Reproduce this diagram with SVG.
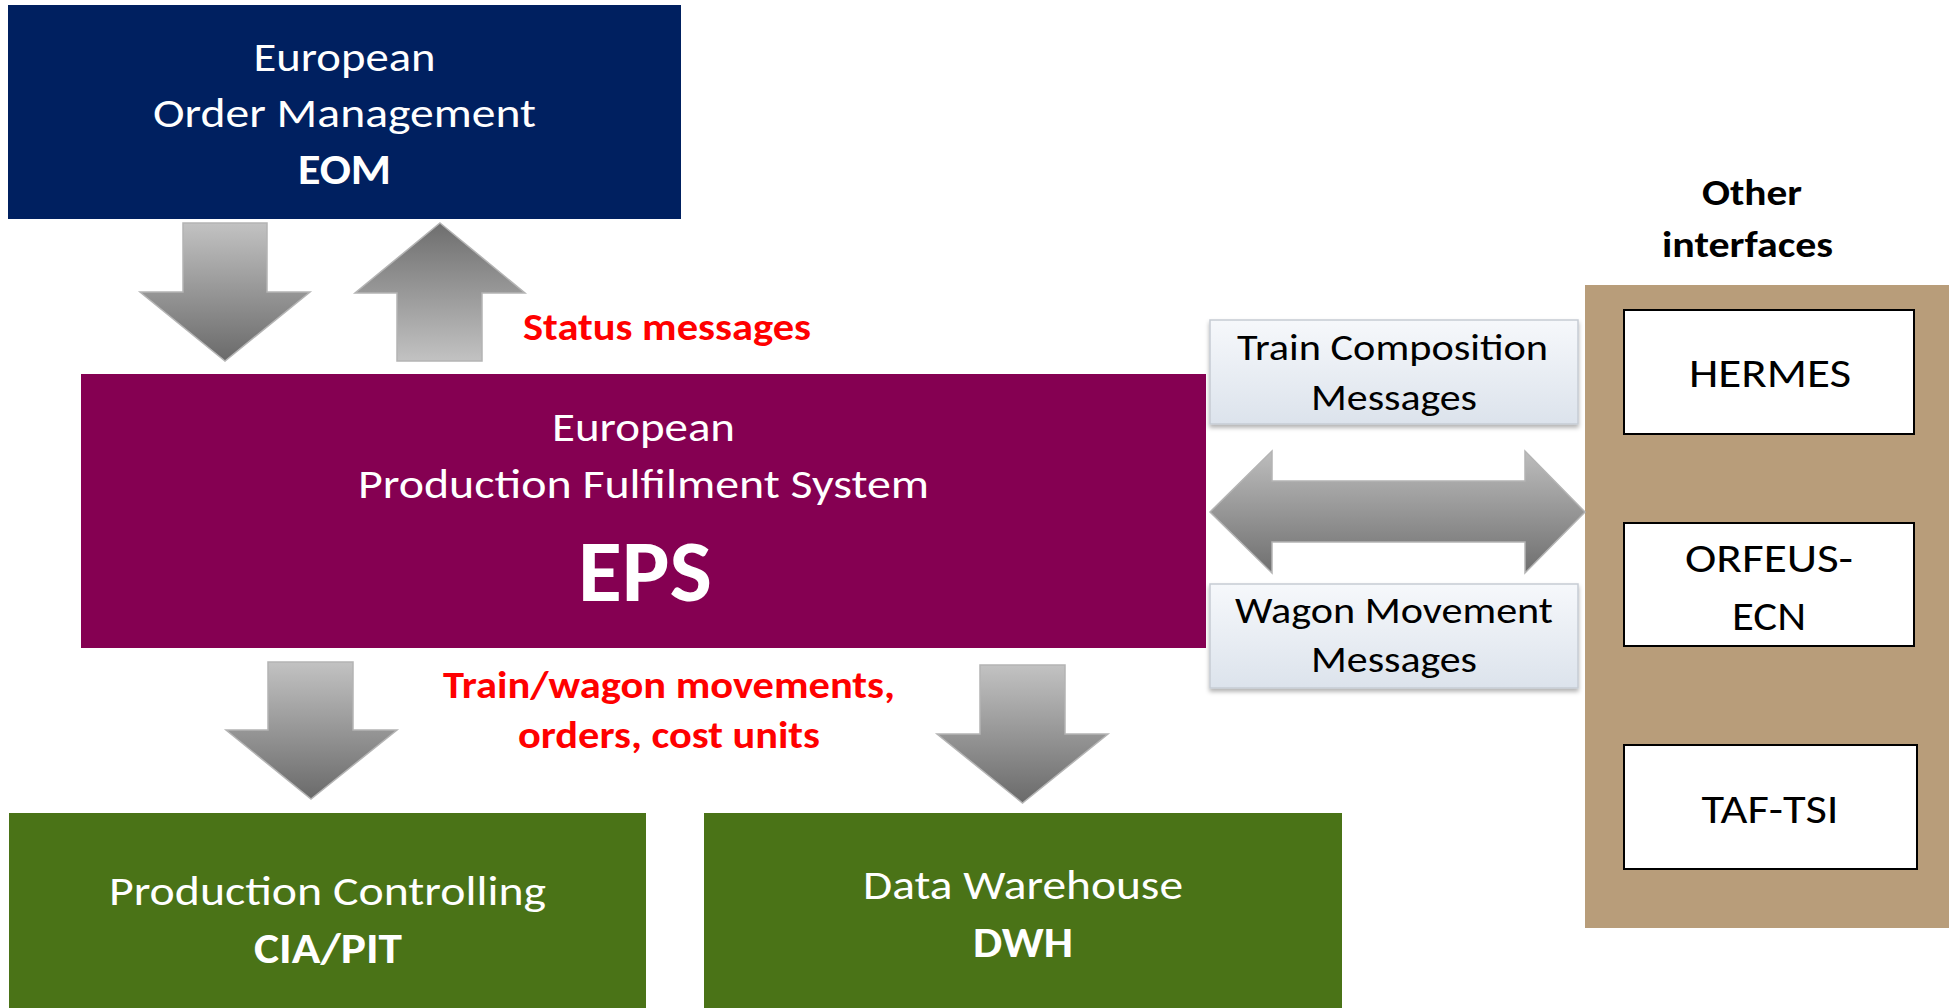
<svg xmlns="http://www.w3.org/2000/svg" width="1955" height="1008" viewBox="0 0 1955 1008">
  <style>
    text { font-family: Calibri, Carlito, Lato, "Open Sans", "Liberation Sans", sans-serif; text-anchor: middle; }
    .w { fill: #ffffff; }
    .k { fill: #000000; }
    .r { fill: #ff0000; font-weight: bold; }
    .b { font-weight: bold; }
    .f40 { font-size: 42px; }
    .f36 { font-size: 37px; }
    .f35 { font-size: 36px; }
    .f38 { font-size: 39px; }
    .arrow { stroke: #b4b4b4; stroke-width: 1.5; }
    .msg { fill: url(#msgGrad); stroke: #c6ccd4; stroke-width: 1.5; filter: url(#shadow); }
    .iface { fill: #ffffff; stroke: #000000; stroke-width: 2; }
  </style>
  <defs>
    <linearGradient id="gDown" x1="0" y1="0" x2="0" y2="1">
      <stop offset="0" stop-color="#c2c2c2"/>
      <stop offset="1" stop-color="#6a6a6a"/>
    </linearGradient>
    <linearGradient id="gUp" x1="0" y1="1" x2="0" y2="0">
      <stop offset="0" stop-color="#c2c2c2"/>
      <stop offset="1" stop-color="#6e6e6e"/>
    </linearGradient>
    <linearGradient id="gDouble" x1="0" y1="0" x2="0" y2="1">
      <stop offset="0" stop-color="#bdbdbd"/>
      <stop offset="1" stop-color="#6f6f6f"/>
    </linearGradient>
    <linearGradient id="msgGrad" x1="0" y1="0" x2="0" y2="1">
      <stop offset="0" stop-color="#f6f8fb"/>
      <stop offset="1" stop-color="#dce3ec"/>
    </linearGradient>
    <filter id="shadow" x="-5%" y="-10%" width="110%" height="130%">
      <feDropShadow dx="0" dy="3" stdDeviation="2" flood-color="#000000" flood-opacity="0.3"/>
    </filter>
  </defs>

  <rect x="0" y="0" width="1955" height="1008" fill="#ffffff"/>

  <g id="eom">
    <rect x="8" y="5" width="673" height="214" fill="#002060"/>
    <text class="w f40" x="344.5" y="71" textLength="182" lengthAdjust="spacingAndGlyphs">European</text>
    <text class="w f40" x="344.5" y="127" textLength="383" lengthAdjust="spacingAndGlyphs">Order Management</text>
    <text class="w f40 b" x="344.5" y="184" textLength="93" lengthAdjust="spacingAndGlyphs">EOM</text>
  </g>

  <g id="eps">
    <rect x="81" y="374" width="1125" height="274" fill="#850052"/>
    <text class="w f40" x="643.5" y="441" textLength="183" lengthAdjust="spacingAndGlyphs">European</text>
    <text class="w f40" x="643.5" y="498" textLength="571" lengthAdjust="spacingAndGlyphs">Production Fulfilment System</text>
    <text class="w b" style="font-size:87px" x="645" y="601" textLength="134" lengthAdjust="spacingAndGlyphs">EPS</text>
  </g>

  <g id="cia">
    <rect x="9" y="813" width="637" height="195" fill="#4a7317"/>
    <text class="w f40" x="327.5" y="905" textLength="437" lengthAdjust="spacingAndGlyphs">Production Controlling</text>
    <text class="w f40 b" x="328" y="963" textLength="148" lengthAdjust="spacingAndGlyphs">CIA/PIT</text>
  </g>

  <g id="dwh">
    <rect x="704" y="813" width="638" height="195" fill="#4a7317"/>
    <text class="w f40" x="1023" y="899" textLength="320" lengthAdjust="spacingAndGlyphs">Data Warehouse</text>
    <text class="w f40 b" x="1023" y="957" textLength="100" lengthAdjust="spacingAndGlyphs">DWH</text>
  </g>

  <g id="other-interfaces">
    <text class="k f36 b" x="1752" y="205" textLength="100" lengthAdjust="spacingAndGlyphs">Other</text>
    <text class="k f36 b" x="1747.5" y="257" textLength="171" lengthAdjust="spacingAndGlyphs">interfaces</text>
    <rect x="1585" y="285" width="364" height="643" fill="#b89d7a"/>
  </g>

  <g id="hermes">
    <rect class="iface" x="1624" y="310" width="290" height="124"/>
    <text class="k f40" x="1770" y="387" textLength="162" lengthAdjust="spacingAndGlyphs">HERMES</text>
  </g>

  <g id="orfeus">
    <rect class="iface" x="1624" y="523" width="290" height="123"/>
    <text class="k f40" x="1769" y="572" textLength="168" lengthAdjust="spacingAndGlyphs">ORFEUS-</text>
    <text class="k f40" x="1769" y="630" textLength="74" lengthAdjust="spacingAndGlyphs">ECN</text>
  </g>

  <g id="taftsi">
    <rect class="iface" x="1624" y="745" width="293" height="124"/>
    <text class="k f40" x="1770" y="823" textLength="137" lengthAdjust="spacingAndGlyphs">TAF-TSI</text>
  </g>

  <g id="train-composition">
    <rect class="msg" x="1210" y="320" width="368" height="104"/>
    <text class="k f35" x="1392.5" y="360" textLength="311" lengthAdjust="spacingAndGlyphs">Train Composition</text>
    <text class="k f35" x="1394" y="410" textLength="166" lengthAdjust="spacingAndGlyphs">Messages</text>
  </g>

  <g id="wagon-movement">
    <rect class="msg" x="1210" y="584" width="368" height="104"/>
    <text class="k f35" x="1394" y="623" textLength="318" lengthAdjust="spacingAndGlyphs">Wagon Movement</text>
    <text class="k f35" x="1394" y="672" textLength="166" lengthAdjust="spacingAndGlyphs">Messages</text>
  </g>

  <g id="connectors">
    <polygon class="arrow" fill="url(#gDown)" points="183,223 267,223 267,292 310,292 225,361 140,292 183,292"/>
    <polygon class="arrow" fill="url(#gUp)" points="440,223 525,293 482,293 482,361 397,361 397,293 355,293"/>
    <polygon class="arrow" fill="url(#gDown)" points="268,662 353,662 353,730 397,730 311,799 226,730 268,730"/>
    <polygon class="arrow" fill="url(#gDown)" points="980,665 1065,665 1065,734 1108,734 1022.5,803 937,734 980,734"/>
    <polygon class="arrow" fill="url(#gDouble)" points="1210,512 1272,451 1272,481 1525,481 1525,451 1585,512 1525,573 1525,542 1272,542 1272,573"/>
    <text class="r f38" x="667" y="340" textLength="288" lengthAdjust="spacingAndGlyphs">Status messages</text>
    <text class="r f38" x="669" y="698" textLength="452" lengthAdjust="spacingAndGlyphs">Train/wagon movements,</text>
    <text class="r f38" x="669" y="748" textLength="302" lengthAdjust="spacingAndGlyphs">orders, cost units</text>
  </g>
</svg>
